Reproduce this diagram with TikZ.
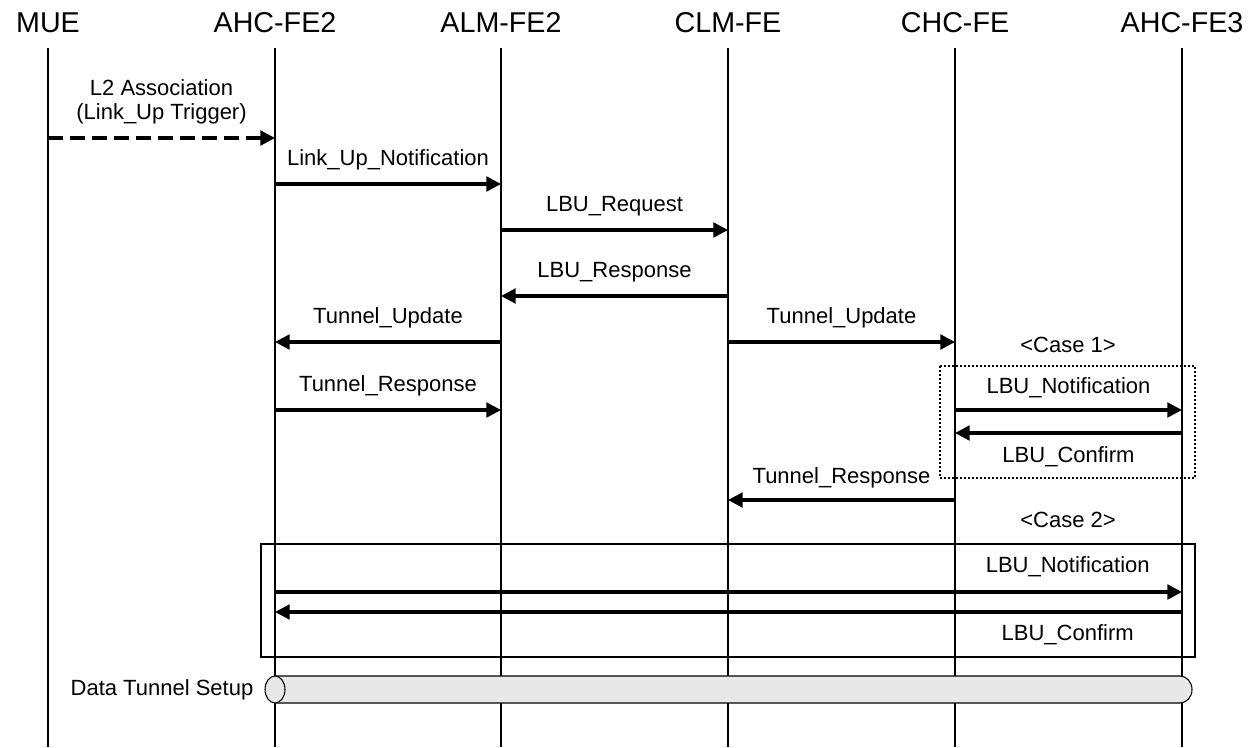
\documentclass[tikz,border=0pt]{standalone}
\usepackage{fontspec}
\setmainfont{Liberation Sans}
\usetikzlibrary{arrows.meta,positioning}

\tikzset{
  actor/.style={font=\fontsize{21.5}{24}\selectfont, text height=15.5pt, text depth=0pt},
  lbl/.style={font=\fontsize{16.5}{18}\selectfont, align=center, text height=12pt, text depth=3.5pt},
  lifeline/.style={line width=0.8pt},
  msg/.style={line width=2.4pt, -{Triangle[length=11pt,width=11pt]}},
  msgabove/.style={lbl, pos=0.5, yshift=18pt},
  msgbelow/.style={lbl, pos=0.5, yshift=-18pt}
}

\begin{document}
\begin{tikzpicture}[x=0.75pt,y=-0.75pt]
            \useasboundingbox (0,0) rectangle (1249,747);

            % Actors
            \node[actor] (mue)  at (48,22)   {MUE};
            \node[actor] (ahc2) at (275,22)  {AHC-FE2};
            \node[actor] (alm2) at (501,22)  {ALM-FE2};
            \node[actor] (clm)  at (728,22)  {CLM-FE};
            \node[actor] (chc)  at (955,22)  {CHC-FE};
            \node[actor] (ahc3) at (1182,22) {AHC-FE3};

            % Lifelines
            \foreach \n in {mue,ahc2,alm2,clm,chc,ahc3}{
            \draw[lifeline] (\n |- 0,48) -- (\n |- 0,747);
            }

            % Attachment
            \draw[msg, dash pattern=on 11pt off 5.5pt] (mue |- 0,138) -- (ahc2 |- 0,138)
                node[font=\fontsize{16.5}{18}\selectfont, align=center, pos=0.5, yshift=27pt] {L2 Association\\(Link\_Up Trigger)};
            \draw[msg] (ahc2 |- 0,184) -- (alm2 |- 0,184) node[msgabove] {Link\_Up\_Notification};
            \draw[msg] (alm2 |- 0,230) -- (clm |- 0,230) node[msgabove] {LBU\_Request};
            \draw[msg] (clm |- 0,296) -- (alm2 |- 0,296) node[msgabove] {LBU\_Response};

            % Tunnel update
            \draw[msg] (alm2 |- 0,342) -- (ahc2 |- 0,342) node[msgabove] {Tunnel\_Update};
            \draw[msg] (clm |- 0,342) -- (chc |- 0,342) node[msgabove] {Tunnel\_Update};
            \draw[msg] (ahc2 |- 0,410) -- (alm2 |- 0,410) node[msgabove] {Tunnel\_Response};

            % Case 1 (dotted box)
            \draw[line width=1.2pt, dash pattern=on 1.5pt off 1.5pt] (940,366) rectangle (1195,478);
            \node[lbl] (case1) at (1068,347) {<Case 1>};
            \draw[msg] (chc |- 0,410) -- (ahc3 |- 0,410) node[msgabove, yshift=-1pt] {LBU\_Notification};
            \draw[msg] (ahc3 |- 0,433) -- (chc |- 0,433) node[msgbelow] {LBU\_Confirm};
            \draw[msg] (chc |- 0,500) -- (clm |- 0,500) node[msgabove, yshift=-1pt] {Tunnel\_Response};

            % Case 2 (solid box)
            \draw[line width=1.3pt] (261,544) rectangle (1195,657);
            \node[lbl] (case2) at (1068,522) {<Case 2>};
            \draw[msg] (ahc2 |- 0,592) -- (ahc3 |- 0,592) node[lbl, pos=0.874, yshift=19pt] {LBU\_Notification};
            \draw[msg] (ahc3 |- 0,612) -- (ahc2 |- 0,612) node[lbl, pos=0.126, yshift=-17pt] {LBU\_Confirm};

            % Data tunnel
            \filldraw[fill=gray!18, line width=0.8pt] (275,676) -- (1180,676)
                arc[start angle=-90, end angle=90, x radius=12, y radius=13.5] -- (275,703);
            \filldraw[fill=gray!18, line width=0.8pt] (275,689.5) ellipse[x radius=10, y radius=13.5];
            \node[lbl, anchor=east] (tunnel) at (258,690) {Data Tunnel Setup};
        \end{tikzpicture}
\end{document}
